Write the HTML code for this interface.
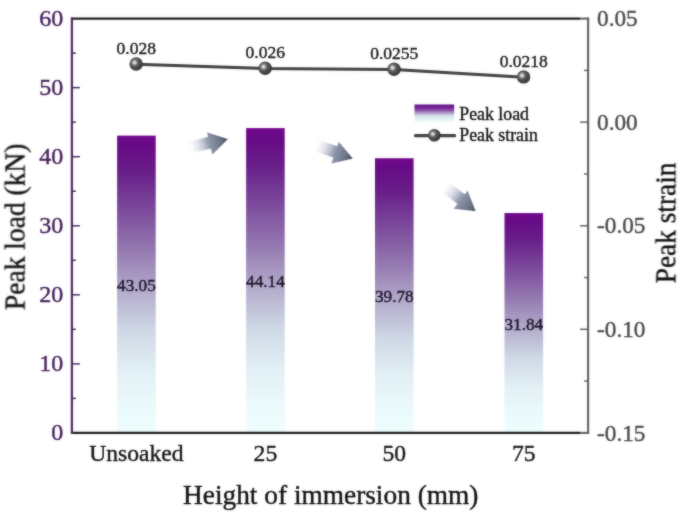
<!DOCTYPE html>
<html lang="en"><head><meta charset="utf-8"><title>Peak load and peak strain vs height of immersion</title>
<style>html,body{margin:0;padding:0;background:#fff;overflow:hidden}svg{display:block}</style></head>
<body>
<svg width="685" height="517" viewBox="0 0 685 517" font-family="'Liberation Serif', 'Times New Roman', serif">
<defs>
<linearGradient id="bar" x1="0" y1="0" x2="0" y2="1">
<stop offset="0" stop-color="#70088c"/>
<stop offset="0.035" stop-color="#670a85"/>
<stop offset="0.12" stop-color="#681e89"/>
<stop offset="0.25" stop-color="#7c4a9c"/>
<stop offset="0.385" stop-color="#9478b0"/>
<stop offset="0.52" stop-color="#b3aacb"/>
<stop offset="0.655" stop-color="#ced8e5"/>
<stop offset="0.79" stop-color="#e2eff5"/>
<stop offset="0.9" stop-color="#eaf9fb"/>
<stop offset="1" stop-color="#eefefe"/>
</linearGradient>
<linearGradient id="leg" x1="0" y1="0" x2="0" y2="1">
<stop offset="0" stop-color="#6a0f8c"/>
<stop offset="0.12" stop-color="#6e1a90"/>
<stop offset="0.32" stop-color="#8a4ca8"/>
<stop offset="0.5" stop-color="#b8a8d0"/>
<stop offset="0.65" stop-color="#d4e2ec"/>
<stop offset="0.85" stop-color="#e4f4f6"/>
<stop offset="1" stop-color="#f2fcfc"/>
</linearGradient>
<linearGradient id="arr" gradientUnits="userSpaceOnUse" x1="-38" y1="0" x2="0" y2="0">
<stop offset="0" stop-color="#c2c8da" stop-opacity="0"/>
<stop offset="0.18" stop-color="#c2c8da" stop-opacity="0.4"/>
<stop offset="0.5" stop-color="#9098ac" stop-opacity="1"/>
<stop offset="0.8" stop-color="#6c7488" stop-opacity="1"/>
<stop offset="1" stop-color="#4c5262" stop-opacity="1"/>
</linearGradient>
<radialGradient id="ball" cx="0.38" cy="0.39" r="0.62">
<stop offset="0" stop-color="#f2f2f2"/>
<stop offset="0.13" stop-color="#dadada"/>
<stop offset="0.32" stop-color="#7e7e7e"/>
<stop offset="0.52" stop-color="#545454"/>
<stop offset="0.8" stop-color="#404040"/>
<stop offset="1" stop-color="#363636"/>
</radialGradient>
<filter id="soft" x="-2%" y="-2%" width="104%" height="104%" color-interpolation-filters="sRGB"><feGaussianBlur in="SourceGraphic" stdDeviation="0.8" result="b"/><feComposite in="SourceGraphic" in2="b" operator="arithmetic" k1="0" k2="0.55" k3="0.45" k4="0"/></filter>
<filter id="softa" x="-20%" y="-40%" width="140%" height="180%" color-interpolation-filters="sRGB"><feGaussianBlur in="SourceGraphic" stdDeviation="0.8" result="b"/><feComposite in="SourceGraphic" in2="b" operator="arithmetic" k1="0" k2="0.75" k3="0.25" k4="0"/></filter>
</defs>
<rect width="685" height="517" fill="#ffffff"/>
<g filter="url(#soft)">
<rect x="117.10" y="135.64" width="38.6" height="297.26" fill="url(#bar)"/>
<rect x="246.10" y="128.11" width="38.6" height="304.79" fill="url(#bar)"/>
<rect x="375.00" y="158.22" width="38.6" height="274.68" fill="url(#bar)"/>
<rect x="504.50" y="213.04" width="38.6" height="219.86" fill="url(#bar)"/>
<line x1="70.9" y1="18.6" x2="580.1" y2="18.6" stroke="#1c1c1c" stroke-width="2.1"/>
<line x1="70.9" y1="432.9" x2="580.1" y2="432.9" stroke="#1c1c1c" stroke-width="2.1"/>
<line x1="71.9" y1="17.6" x2="71.9" y2="433.9" stroke="#4c2a62" stroke-width="2.2"/>
<line x1="588.1" y1="17.6" x2="588.1" y2="433.9" stroke="#606060" stroke-width="2.1"/>
<line x1="71.9" y1="398.38" x2="75.9" y2="398.38" stroke="#4c2a62" stroke-width="1.5"/>
<line x1="71.9" y1="363.85" x2="79.9" y2="363.85" stroke="#4c2a62" stroke-width="1.5"/>
<line x1="71.9" y1="329.32" x2="75.9" y2="329.32" stroke="#4c2a62" stroke-width="1.5"/>
<line x1="71.9" y1="294.80" x2="79.9" y2="294.80" stroke="#4c2a62" stroke-width="1.5"/>
<line x1="71.9" y1="260.27" x2="75.9" y2="260.27" stroke="#4c2a62" stroke-width="1.5"/>
<line x1="71.9" y1="225.75" x2="79.9" y2="225.75" stroke="#4c2a62" stroke-width="1.5"/>
<line x1="71.9" y1="191.22" x2="75.9" y2="191.22" stroke="#4c2a62" stroke-width="1.5"/>
<line x1="71.9" y1="156.70" x2="79.9" y2="156.70" stroke="#4c2a62" stroke-width="1.5"/>
<line x1="71.9" y1="122.18" x2="75.9" y2="122.18" stroke="#4c2a62" stroke-width="1.5"/>
<line x1="71.9" y1="87.65" x2="79.9" y2="87.65" stroke="#4c2a62" stroke-width="1.5"/>
<line x1="71.9" y1="53.13" x2="75.9" y2="53.13" stroke="#4c2a62" stroke-width="1.5"/>
<line x1="589.0500000000001" y1="18.60" x2="580.1" y2="18.60" stroke="#606060" stroke-width="2.1"/>
<line x1="588.1" y1="70.39" x2="584.1" y2="70.39" stroke="#606060" stroke-width="1.5"/>
<line x1="588.1" y1="122.17" x2="580.1" y2="122.17" stroke="#606060" stroke-width="1.5"/>
<line x1="588.1" y1="173.96" x2="584.1" y2="173.96" stroke="#606060" stroke-width="1.5"/>
<line x1="588.1" y1="225.75" x2="580.1" y2="225.75" stroke="#606060" stroke-width="1.5"/>
<line x1="588.1" y1="277.54" x2="584.1" y2="277.54" stroke="#606060" stroke-width="1.5"/>
<line x1="588.1" y1="329.33" x2="580.1" y2="329.33" stroke="#606060" stroke-width="1.5"/>
<line x1="588.1" y1="381.11" x2="584.1" y2="381.11" stroke="#606060" stroke-width="1.5"/>
<line x1="589.0500000000001" y1="432.90" x2="580.1" y2="432.90" stroke="#606060" stroke-width="2.1"/>
<text x="63.3" y="440.40" font-size="24" text-anchor="end" fill="#45205a" stroke="#45205a" stroke-width="0.4">0</text>
<text x="63.3" y="371.35" font-size="24" text-anchor="end" fill="#45205a" stroke="#45205a" stroke-width="0.4">10</text>
<text x="63.3" y="302.30" font-size="24" text-anchor="end" fill="#45205a" stroke="#45205a" stroke-width="0.4">20</text>
<text x="63.3" y="233.25" font-size="24" text-anchor="end" fill="#45205a" stroke="#45205a" stroke-width="0.4">30</text>
<text x="63.3" y="164.20" font-size="24" text-anchor="end" fill="#45205a" stroke="#45205a" stroke-width="0.4">40</text>
<text x="63.3" y="95.15" font-size="24" text-anchor="end" fill="#45205a" stroke="#45205a" stroke-width="0.4">50</text>
<text x="63.3" y="26.10" font-size="24" text-anchor="end" fill="#45205a" stroke="#45205a" stroke-width="0.4">60</text>
<text x="597.1" y="26.20" font-size="23.2" text-anchor="start" fill="#484848" stroke="#484848" stroke-width="0.4">0.05</text>
<text x="597.1" y="129.77" font-size="23.2" text-anchor="start" fill="#484848" stroke="#484848" stroke-width="0.4">0.00</text>
<text x="597.1" y="233.35" font-size="23.2" text-anchor="start" fill="#484848" stroke="#484848" stroke-width="0.4">-0.05</text>
<text x="597.1" y="336.93" font-size="23.2" text-anchor="start" fill="#484848" stroke="#484848" stroke-width="0.4">-0.10</text>
<text x="597.1" y="440.50" font-size="23.2" text-anchor="start" fill="#484848" stroke="#484848" stroke-width="0.4">-0.15</text>
<text x="136.40" y="460.9" font-size="23.6" text-anchor="middle" fill="#141414" stroke="#141414" stroke-width="0.4">Unsoaked</text>
<text x="265.40" y="460.9" font-size="23.6" text-anchor="middle" fill="#141414" stroke="#141414" stroke-width="0.4">25</text>
<text x="394.30" y="460.9" font-size="23.6" text-anchor="middle" fill="#141414" stroke="#141414" stroke-width="0.4">50</text>
<text x="523.80" y="460.9" font-size="23.6" text-anchor="middle" fill="#141414" stroke="#141414" stroke-width="0.4">75</text>
<text transform="translate(330.7 503.6) scale(0.977 1)" font-size="28" text-anchor="middle" fill="#101010" stroke="#101010" stroke-width="0.4">Height of immersion (mm)</text>
<text transform="translate(24.6 226.8) rotate(-90) scale(0.933 1)" font-size="29.5" text-anchor="middle" fill="#101010" stroke="#101010" stroke-width="0.4">Peak load (kN)</text>
<text transform="translate(675.4 222.9) rotate(-90) scale(0.912 1)" font-size="30" text-anchor="middle" fill="#101010" stroke="#101010" stroke-width="0.4">Peak strain</text>
<text x="136.40" y="290.87" font-size="17.2" text-anchor="middle" fill="#1a1426" stroke="#1a1426" stroke-width="0.4">43.05</text>
<text x="265.40" y="287.11" font-size="17.2" text-anchor="middle" fill="#1a1426" stroke="#1a1426" stroke-width="0.4">44.14</text>
<text x="394.30" y="302.16" font-size="17.2" text-anchor="middle" fill="#1a1426" stroke="#1a1426" stroke-width="0.4">39.78</text>
<text x="523.80" y="329.57" font-size="17.2" text-anchor="middle" fill="#1a1426" stroke="#1a1426" stroke-width="0.4">31.84</text>
<polyline points="136.4,64.32 265.4,68.47 394.3,69.50 523.8,77.17" fill="none" stroke="#404040" stroke-width="3" stroke-linejoin="round"/>
<circle cx="136.15" cy="64.07" r="6.7" fill="url(#ball)"/>
<text x="136.30" y="53.87" font-size="17.5" text-anchor="middle" fill="#181818" stroke="#181818" stroke-width="0.4">0.028</text>
<circle cx="265.15" cy="68.22" r="6.7" fill="url(#ball)"/>
<text x="265.30" y="58.02" font-size="17.5" text-anchor="middle" fill="#181818" stroke="#181818" stroke-width="0.4">0.026</text>
<circle cx="394.05" cy="69.25" r="6.7" fill="url(#ball)"/>
<text x="394.20" y="59.05" font-size="17.5" text-anchor="middle" fill="#181818" stroke="#181818" stroke-width="0.4">0.0255</text>
<circle cx="523.55" cy="76.92" r="6.7" fill="url(#ball)"/>
<text x="523.70" y="66.72" font-size="17.5" text-anchor="middle" fill="#181818" stroke="#181818" stroke-width="0.4">0.0218</text>
<rect x="414.5" y="104.5" width="39.7" height="17.7" fill="url(#leg)"/>
<line x1="415.5" y1="135.7" x2="454.6" y2="135.7" stroke="#404040" stroke-width="3.2" stroke-linecap="round"/>
<circle cx="434.3" cy="135.3" r="6.3" fill="url(#ball)"/>
<text x="459.3" y="119.6" font-size="17.8" fill="#141414" stroke="#141414" stroke-width="0.4">Peak load</text>
<text x="459.3" y="140.9" font-size="17.8" fill="#141414" stroke="#141414" stroke-width="0.4">Peak strain</text>
</g>
<g transform="translate(227.4 139.2) rotate(-13.5)" filter="url(#softa)"><path d="M0.5,0 L-18.3,-11.5 L-18.3,-6.7 L-38,-6.7 L-38,5.3 L-18.3,5.3 L-18.3,11.5 Z" fill="url(#arr)"/></g>
<g transform="translate(352.4 158.4) rotate(18.5)" filter="url(#softa)"><path d="M0.5,0 L-18.3,-11.5 L-18.3,-6.7 L-38,-6.7 L-38,5.3 L-18.3,5.3 L-18.3,11.5 Z" fill="url(#arr)"/></g>
<g transform="translate(475.2 210.8) rotate(37.4)" filter="url(#softa)"><path d="M0.5,0 L-18.3,-11.5 L-18.3,-6.7 L-38,-6.7 L-38,5.3 L-18.3,5.3 L-18.3,11.5 Z" fill="url(#arr)"/></g>
</svg>
</body></html>
